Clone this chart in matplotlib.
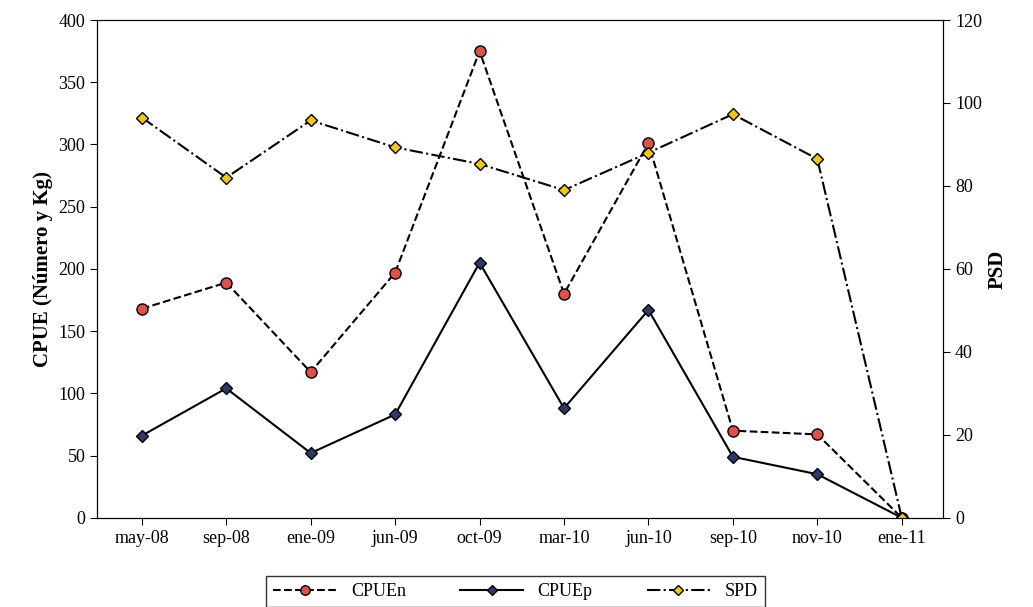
import matplotlib
matplotlib.use('Agg')
import matplotlib.pyplot as plt

months = ['may-08', 'sep-08', 'ene-09', 'jun-09', 'oct-09', 'mar-10', 'jun-10', 'sep-10', 'nov-10', 'ene-11']
cpuen = [168, 189, 117, 197, 375, 180, 301, 70, 67, 0]
cpuep = [66, 104, 52, 83, 205, 88, 167, 49, 35, 0]
spd = [96.5, 82, 95.8, 89.3, 85.3, 79, 88, 97.3, 86.5, 0]

plt.rcParams['font.family'] = ['Liberation Serif', 'DejaVu Serif']
plt.rcParams['font.size'] = 13

fig, ax = plt.subplots(figsize=(10.33, 6.07), dpi=100)
fig.subplots_adjust(left=0.094, right=0.913, top=0.967, bottom=0.147)
x = range(len(months))
l1, = ax.plot(x, cpuen, 'k--', lw=1.5, marker='o', ms=8, mfc='#e0504a', mec='k', mew=1, label='CPUEn')
l2, = ax.plot(x, cpuep, 'k-', lw=1.5, marker='D', ms=6, mfc='#2b3a6b', mec='k', mew=1, label='CPUEp')
ax2 = ax.twinx()
l3, = ax2.plot(x, spd, 'k-.', lw=1.5, marker='D', ms=6, mfc='#f2c811', mec='k', mew=1, label='SPD')

ax.set_ylim(0, 400)
ax.set_yticks(range(0, 401, 50))
ax2.set_ylim(0, 120)
ax2.set_yticks(range(0, 121, 20))
ax.set_xlim(-0.53, 9.49)
ax.set_xticks(list(x))
ax.set_xticklabels(months)
ax.set_ylabel('CPUE (Número y Kg)', fontweight='bold', fontsize=15)
ax2.set_ylabel('PSD', fontweight='bold', fontsize=15)
for a in (ax, ax2):
    a.tick_params(direction='out', length=5)

fig.legend(handles=[l1, l2, l3], loc='lower center', ncol=3, bbox_to_anchor=(0.499, -0.015),
           frameon=True, fancybox=False, edgecolor='k', handlelength=3.5, columnspacing=3.0,
           markerscale=0.85)
fig.savefig('out.png', dpi=100)
